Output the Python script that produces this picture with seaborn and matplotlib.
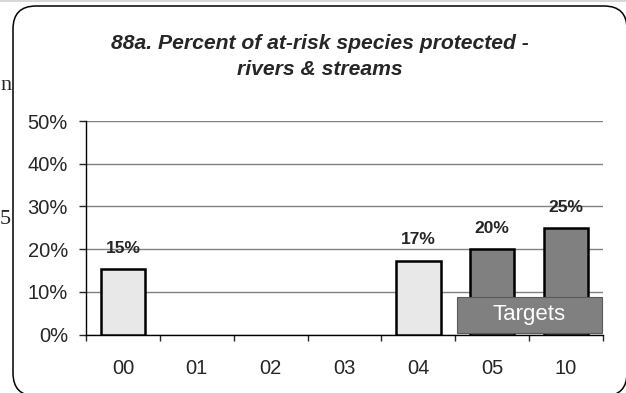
import numpy as np
import pandas as pd
import matplotlib
matplotlib.use('Agg')
import matplotlib.pyplot as plt
from matplotlib.patches import FancyBboxPatch, Rectangle
from matplotlib.lines import Line2D
from matplotlib.ticker import PercentFormatter, FixedLocator
import seaborn as sns

sns.set_style('white')
plt.rcParams['font.family'] = ['Liberation Sans', 'DejaVu Sans']

# data
years = ['00', '01', '02', '03', '04', '05', '10']
pct = [15.4, None, None, None, 17.3, 20.0, 25.0]
kind = ['Actual', None, None, None, 'Actual', 'Target', 'Target']
bar_labels = ['15%', '', '', '', '17%', '20%', '25%']

df = pd.DataFrame({'year': years, 'pct': pct, 'kind': kind}).dropna()

fig = plt.figure(figsize=(6.26, 3.93), dpi=100)
ax = fig.add_axes([0.1374, 0.1483, 0.8259, 0.5438])

sns.barplot(data=df, x='year', y='pct', hue='kind', order=years,
            palette={'Actual': '#e8e8e8', 'Target': '#808080'},
            dodge=False, width=0.6, edgecolor='black', linewidth=1.8,
            legend=False, ax=ax, zorder=3)

for i, (v, lab) in enumerate(zip(pct, bar_labels)):
    if v is None:
        continue
    ax.annotate(lab, xy=(i, v), xytext=(0, 15), textcoords='offset points',
                ha='center', va='center', fontsize=12.5, fontweight='bold', zorder=5)

# "Targets" box
ax.add_patch(Rectangle((4.52, 0.5), 1.966, 8.3, facecolor='#808080',
                       edgecolor='#5a5a5a', linewidth=0.8, zorder=4, clip_on=False))
ax.text(5.503, 4.65, 'Targets', color='white', fontsize=16, ha='center', va='center', zorder=6)

ax.set_ylim(0, 50)
ax.set_xlim(-0.5, 6.5)
ax.set_yticks(np.arange(0, 51, 10))
ax.yaxis.set_major_formatter(PercentFormatter(decimals=0))
ax.yaxis.grid(True, color='#808080', linewidth=1.0, zorder=0)
ax.set_axisbelow(True)
ax.set_xlabel('')
ax.set_ylabel('')

for s in ['top', 'right']:
    ax.spines[s].set_visible(False)
for s in ['left', 'bottom']:
    ax.spines[s].set_color('black')
    ax.spines[s].set_linewidth(1.0)

ax.tick_params(axis='y', direction='out', length=5, width=1, pad=8, labelsize=14.5, left=True)
ax.tick_params(axis='x', which='major', length=0, pad=17.5, labelsize=14.5)
ax.xaxis.set_minor_locator(FixedLocator(np.arange(-0.5, 7, 1)))
ax.tick_params(axis='x', which='minor', direction='out', length=4.5, width=1, bottom=True)

fig.text(0.511, 1 - 56.5 / 393, '88a. Percent of at-risk species protected -\nrivers & streams',
         ha='center', va='center', multialignment='center', linespacing=1.45,
         fontsize=15.2, fontweight='bold', style='italic')

# rounded frame around the chart (cropped at right/bottom)
frame = FancyBboxPatch((0.13, -0.03), 6.14, 3.90, boxstyle='round,pad=0,rounding_size=0.23',
                       transform=fig.dpi_scale_trans, facecolor='none', edgecolor='black',
                       linewidth=1.1)
fig.patches.append(frame)
fig.lines.append(Line2D([0, 1], [0.998, 0.998], transform=fig.transFigure,
                        color='#cfcfcf', linewidth=1.2))

# text fragments from the neighbouring page column
fig.text(0.0, 1 - 85 / 393, 'n', family='Liberation Serif', fontsize=16, va='center', ha='left')
fig.text(0.0, 1 - 220 / 393, '5', family='Liberation Serif', fontsize=16, va='center', ha='left')

fig.savefig('out.png', dpi=100)
